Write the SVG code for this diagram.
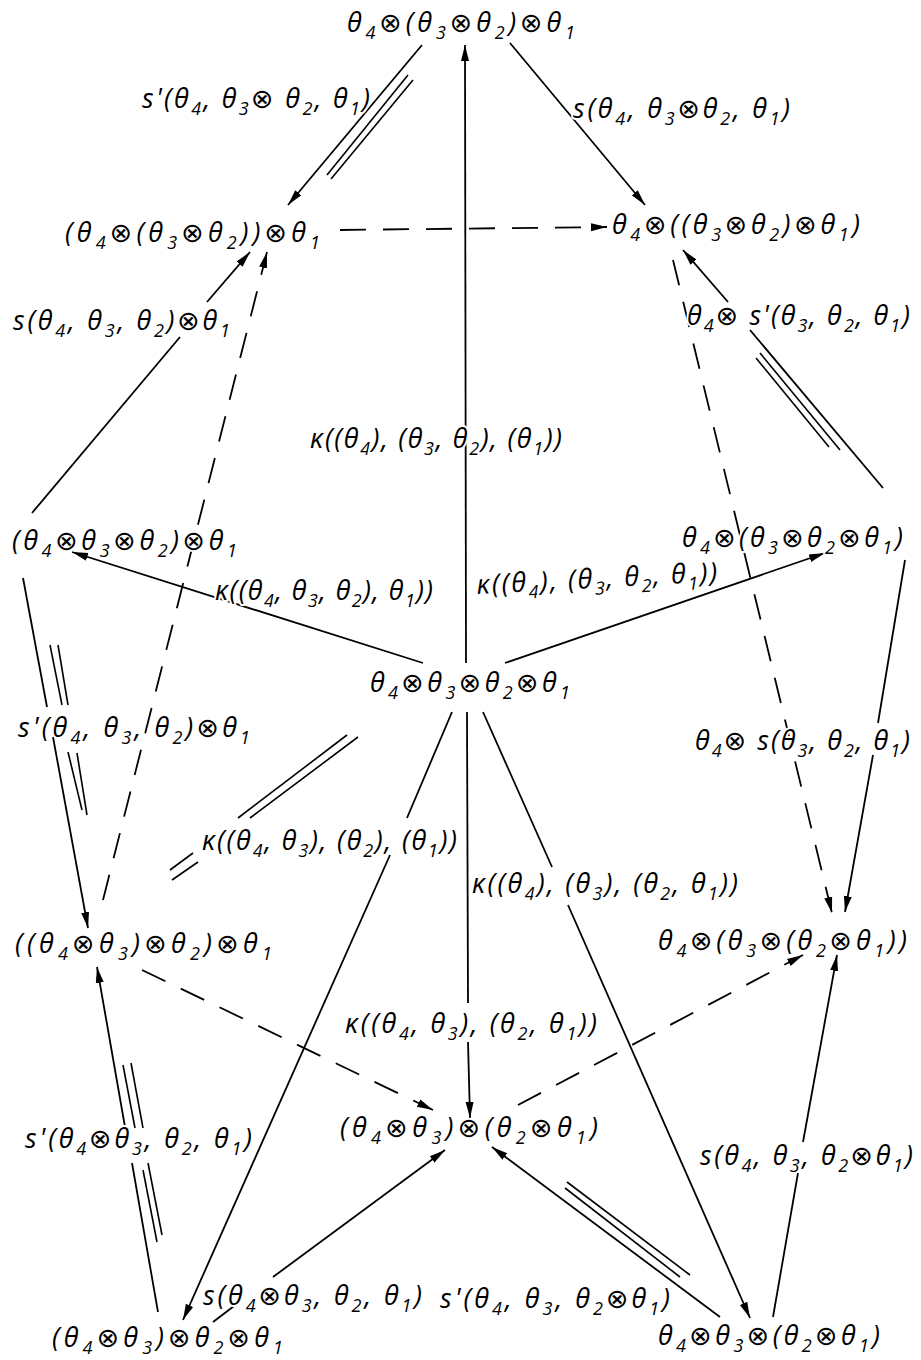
<svg xmlns="http://www.w3.org/2000/svg" width="921" height="1360" viewBox="0 0 921 1360">
<style>
text{font-family:"Open Sans","DejaVu Sans",sans-serif;font-style:italic;font-size:27px;fill:#000;stroke:#fff;stroke-width:4;stroke-linejoin:round;paint-order:stroke}
.s{font-size:18px}
.a{stroke:#000;stroke-width:1.8;fill:none}
.d{stroke:#000;stroke-width:1.8;fill:none;stroke-dasharray:26 17}
.m{stroke:#000;stroke-width:1.6;fill:none}
</style>
<defs>
<marker id="ah" viewBox="0 0 16 10" refX="16" refY="5" markerWidth="16" markerHeight="10" markerUnits="userSpaceOnUse" orient="auto">
<path d="M0,1 L16,5 L0,9 Z" fill="#000"/>
</marker>
</defs>
<rect width="921" height="1360" fill="#fff"/>
<g id="connectors">
<line class="a" x1="422" y1="45" x2="288" y2="205" marker-end="url(#ah)"/>
<line class="m" x1="408" y1="75" x2="327" y2="175"/>
<line class="m" x1="413" y1="80" x2="331" y2="179"/>
<line class="a" x1="510" y1="43" x2="645" y2="205" marker-end="url(#ah)"/>
<line class="a" x1="466" y1="663" x2="465" y2="45" marker-end="url(#ah)"/>
<line class="d" x1="340" y1="230" x2="607" y2="227" marker-end="url(#ah)"/>
<line class="a" x1="32" y1="513" x2="180" y2="337"/>
<line class="a" x1="207" y1="302" x2="250" y2="252" marker-end="url(#ah)"/>
<line class="d" x1="103" y1="900" x2="267" y2="252" marker-end="url(#ah)"/>
<line class="a" x1="883" y1="488" x2="750" y2="330"/>
<line class="a" x1="728" y1="302" x2="683" y2="250" marker-end="url(#ah)"/>
<line class="m" x1="760" y1="353" x2="840" y2="450"/>
<line class="m" x1="756" y1="358" x2="829" y2="447"/>
<line class="d" x1="673" y1="260" x2="832" y2="913" marker-end="url(#ah)"/>
<line class="a" x1="423" y1="663" x2="72" y2="552" marker-end="url(#ah)"/>
<line class="a" x1="505" y1="663" x2="825" y2="553" marker-end="url(#ah)"/>
<line class="a" x1="23" y1="578" x2="47" y2="707"/>
<line class="a" x1="53" y1="737" x2="88" y2="928" marker-end="url(#ah)"/>
<line class="m" x1="50" y1="645" x2="62" y2="705"/>
<line class="m" x1="58" y1="645" x2="68" y2="705"/>
<line class="m" x1="68" y1="752" x2="82" y2="810"/>
<line class="m" x1="77" y1="753" x2="87" y2="815"/>
<line class="a" x1="452" y1="712" x2="407" y2="818"/>
<line class="a" x1="390" y1="855" x2="183" y2="1320" marker-end="url(#ah)"/>
<line class="m" x1="347" y1="735" x2="238" y2="818"/>
<line class="m" x1="358" y1="737" x2="250" y2="818"/>
<line class="m" x1="193" y1="853" x2="170" y2="870"/>
<line class="m" x1="198" y1="862" x2="172" y2="880"/>
<line class="a" x1="467" y1="712" x2="468" y2="1003"/>
<line class="a" x1="468" y1="1042" x2="470" y2="1118" marker-end="url(#ah)"/>
<line class="a" x1="483" y1="712" x2="552" y2="867"/>
<line class="a" x1="568" y1="905" x2="750" y2="1318" marker-end="url(#ah)"/>
<line class="a" x1="905" y1="560" x2="878" y2="723"/>
<line class="a" x1="873" y1="755" x2="845" y2="912" marker-end="url(#ah)"/>
<line class="d" x1="142" y1="970" x2="433" y2="1110" marker-end="url(#ah)"/>
<line class="d" x1="518" y1="1105" x2="803" y2="955" marker-end="url(#ah)"/>
<line class="a" x1="158" y1="1312" x2="132" y2="1163"/>
<line class="a" x1="125" y1="1127" x2="97" y2="967" marker-end="url(#ah)"/>
<line class="m" x1="123" y1="1065" x2="135" y2="1128"/>
<line class="m" x1="131" y1="1063" x2="143" y2="1128"/>
<line class="m" x1="143" y1="1170" x2="157" y2="1242"/>
<line class="m" x1="148" y1="1163" x2="162" y2="1235"/>
<line class="a" x1="213" y1="1322" x2="238" y2="1303"/>
<line class="a" x1="273" y1="1277" x2="445" y2="1150" marker-end="url(#ah)"/>
<line class="a" x1="720" y1="1317" x2="492" y2="1147" marker-end="url(#ah)"/>
<line class="m" x1="567" y1="1182" x2="690" y2="1275"/>
<line class="m" x1="565" y1="1188" x2="680" y2="1277"/>
<line class="a" x1="773" y1="1317" x2="798" y2="1173"/>
<line class="a" x1="803" y1="1142" x2="837" y2="955" marker-end="url(#ah)"/>
</g>
<g id="labels">
<text x="142" y="108" textLength="228" lengthAdjust="spacing">s'(θ<tspan class="s" dy="7">4</tspan><tspan dy="-7">, θ</tspan><tspan class="s" dy="7">3</tspan><tspan dy="-7">⊗ θ</tspan><tspan class="s" dy="7">2</tspan><tspan dy="-7">, θ</tspan><tspan class="s" dy="7">1</tspan><tspan dy="-7">)</tspan></text>
<text x="573" y="118" textLength="217" lengthAdjust="spacing">s(θ<tspan class="s" dy="7">4</tspan><tspan dy="-7">, θ</tspan><tspan class="s" dy="7">3</tspan><tspan dy="-7">⊗θ</tspan><tspan class="s" dy="7">2</tspan><tspan dy="-7">, θ</tspan><tspan class="s" dy="7">1</tspan><tspan dy="-7">)</tspan></text>
<text x="13" y="330" textLength="217" lengthAdjust="spacing">s(θ<tspan class="s" dy="7">4</tspan><tspan dy="-7">, θ</tspan><tspan class="s" dy="7">3</tspan><tspan dy="-7">, θ</tspan><tspan class="s" dy="7">2</tspan><tspan dy="-7">)⊗θ</tspan><tspan class="s" dy="7">1</tspan></text>
<text x="687" y="325" textLength="223" lengthAdjust="spacing">θ<tspan class="s" dy="7">4</tspan><tspan dy="-7">⊗ s'(θ</tspan><tspan class="s" dy="7">3</tspan><tspan dy="-7">, θ</tspan><tspan class="s" dy="7">2</tspan><tspan dy="-7">, θ</tspan><tspan class="s" dy="7">1</tspan><tspan dy="-7">)</tspan></text>
<text x="310" y="448" textLength="252" lengthAdjust="spacing">κ((θ<tspan class="s" dy="7">4</tspan><tspan dy="-7">), (θ</tspan><tspan class="s" dy="7">3</tspan><tspan dy="-7">, θ</tspan><tspan class="s" dy="7">2</tspan><tspan dy="-7">), (θ</tspan><tspan class="s" dy="7">1</tspan><tspan dy="-7">))</tspan></text>
<text x="215" y="600" textLength="218" lengthAdjust="spacing">κ((θ<tspan class="s" dy="7">4</tspan><tspan dy="-7">, θ</tspan><tspan class="s" dy="7">3</tspan><tspan dy="-7">, θ</tspan><tspan class="s" dy="7">2</tspan><tspan dy="-7">), θ</tspan><tspan class="s" dy="7">1</tspan><tspan dy="-7">))</tspan></text>
<text x="477" y="594" textLength="241" lengthAdjust="spacing" transform="rotate(-3 477 594)">κ((θ<tspan class="s" dy="7">4</tspan><tspan dy="-7">), (θ</tspan><tspan class="s" dy="7">3</tspan><tspan dy="-7">, θ</tspan><tspan class="s" dy="7">2</tspan><tspan dy="-7">, θ</tspan><tspan class="s" dy="7">1</tspan><tspan dy="-7">))</tspan></text>
<text x="18" y="737" textLength="232" lengthAdjust="spacing">s'(θ<tspan class="s" dy="7">4</tspan><tspan dy="-7">, θ</tspan><tspan class="s" dy="7">3</tspan><tspan dy="-7">, θ</tspan><tspan class="s" dy="7">2</tspan><tspan dy="-7">)⊗θ</tspan><tspan class="s" dy="7">1</tspan></text>
<text x="202" y="850" textLength="255" lengthAdjust="spacing">κ((θ<tspan class="s" dy="7">4</tspan><tspan dy="-7">, θ</tspan><tspan class="s" dy="7">3</tspan><tspan dy="-7">), (θ</tspan><tspan class="s" dy="7">2</tspan><tspan dy="-7">), (θ</tspan><tspan class="s" dy="7">1</tspan><tspan dy="-7">))</tspan></text>
<text x="695" y="750" textLength="215" lengthAdjust="spacing">θ<tspan class="s" dy="7">4</tspan><tspan dy="-7">⊗ s(θ</tspan><tspan class="s" dy="7">3</tspan><tspan dy="-7">, θ</tspan><tspan class="s" dy="7">2</tspan><tspan dy="-7">, θ</tspan><tspan class="s" dy="7">1</tspan><tspan dy="-7">)</tspan></text>
<text x="472" y="893" textLength="266" lengthAdjust="spacing">κ((θ<tspan class="s" dy="7">4</tspan><tspan dy="-7">), (θ</tspan><tspan class="s" dy="7">3</tspan><tspan dy="-7">), (θ</tspan><tspan class="s" dy="7">2</tspan><tspan dy="-7">, θ</tspan><tspan class="s" dy="7">1</tspan><tspan dy="-7">))</tspan></text>
<text x="345" y="1033" textLength="252" lengthAdjust="spacing">κ((θ<tspan class="s" dy="7">4</tspan><tspan dy="-7">, θ</tspan><tspan class="s" dy="7">3</tspan><tspan dy="-7">), (θ</tspan><tspan class="s" dy="7">2</tspan><tspan dy="-7">, θ</tspan><tspan class="s" dy="7">1</tspan><tspan dy="-7">))</tspan></text>
<text x="25" y="1148" textLength="227" lengthAdjust="spacing">s'(θ<tspan class="s" dy="7">4</tspan><tspan dy="-7">⊗θ</tspan><tspan class="s" dy="7">3</tspan><tspan dy="-7">, θ</tspan><tspan class="s" dy="7">2</tspan><tspan dy="-7">, θ</tspan><tspan class="s" dy="7">1</tspan><tspan dy="-7">)</tspan></text>
<text x="700" y="1165" textLength="213" lengthAdjust="spacing">s(θ<tspan class="s" dy="7">4</tspan><tspan dy="-7">, θ</tspan><tspan class="s" dy="7">3</tspan><tspan dy="-7">, θ</tspan><tspan class="s" dy="7">2</tspan><tspan dy="-7">⊗θ</tspan><tspan class="s" dy="7">1</tspan><tspan dy="-7">)</tspan></text>
<text x="203" y="1305" textLength="219" lengthAdjust="spacing">s(θ<tspan class="s" dy="7">4</tspan><tspan dy="-7">⊗θ</tspan><tspan class="s" dy="7">3</tspan><tspan dy="-7">, θ</tspan><tspan class="s" dy="7">2</tspan><tspan dy="-7">, θ</tspan><tspan class="s" dy="7">1</tspan><tspan dy="-7">)</tspan></text>
<text x="440" y="1308" textLength="230" lengthAdjust="spacing">s'(θ<tspan class="s" dy="7">4</tspan><tspan dy="-7">, θ</tspan><tspan class="s" dy="7">3</tspan><tspan dy="-7">, θ</tspan><tspan class="s" dy="7">2</tspan><tspan dy="-7">⊗θ</tspan><tspan class="s" dy="7">1</tspan><tspan dy="-7">)</tspan></text>
</g>
<g id="n1"><text x="347" y="32" textLength="228" lengthAdjust="spacing">θ<tspan class="s" dy="7">4</tspan><tspan dy="-7">⊗(θ</tspan><tspan class="s" dy="7">3</tspan><tspan dy="-7">⊗θ</tspan><tspan class="s" dy="7">2</tspan><tspan dy="-7">)⊗θ</tspan><tspan class="s" dy="7">1</tspan></text></g>
<g id="n2"><text x="65" y="242" textLength="255" lengthAdjust="spacing">(θ<tspan class="s" dy="7">4</tspan><tspan dy="-7">⊗(θ</tspan><tspan class="s" dy="7">3</tspan><tspan dy="-7">⊗θ</tspan><tspan class="s" dy="7">2</tspan><tspan dy="-7">))⊗θ</tspan><tspan class="s" dy="7">1</tspan></text></g>
<g id="n3"><text x="612" y="234" textLength="248" lengthAdjust="spacing">θ<tspan class="s" dy="7">4</tspan><tspan dy="-7">⊗((θ</tspan><tspan class="s" dy="7">3</tspan><tspan dy="-7">⊗θ</tspan><tspan class="s" dy="7">2</tspan><tspan dy="-7">)⊗θ</tspan><tspan class="s" dy="7">1</tspan><tspan dy="-7">)</tspan></text></g>
<g id="n4"><text x="12" y="550" textLength="225" lengthAdjust="spacing">(θ<tspan class="s" dy="7">4</tspan><tspan dy="-7">⊗θ</tspan><tspan class="s" dy="7">3</tspan><tspan dy="-7">⊗θ</tspan><tspan class="s" dy="7">2</tspan><tspan dy="-7">)⊗θ</tspan><tspan class="s" dy="7">1</tspan></text></g>
<g id="n5"><text x="682" y="547" textLength="221" lengthAdjust="spacing">θ<tspan class="s" dy="7">4</tspan><tspan dy="-7">⊗(θ</tspan><tspan class="s" dy="7">3</tspan><tspan dy="-7">⊗θ</tspan><tspan class="s" dy="7">2</tspan><tspan dy="-7">⊗θ</tspan><tspan class="s" dy="7">1</tspan><tspan dy="-7">)</tspan></text></g>
<g id="n6"><text x="370" y="692" textLength="200" lengthAdjust="spacing">θ<tspan class="s" dy="7">4</tspan><tspan dy="-7">⊗θ</tspan><tspan class="s" dy="7">3</tspan><tspan dy="-7">⊗θ</tspan><tspan class="s" dy="7">2</tspan><tspan dy="-7">⊗θ</tspan><tspan class="s" dy="7">1</tspan></text></g>
<g id="n7"><text x="15" y="953" textLength="257" lengthAdjust="spacing">((θ<tspan class="s" dy="7">4</tspan><tspan dy="-7">⊗θ</tspan><tspan class="s" dy="7">3</tspan><tspan dy="-7">)⊗θ</tspan><tspan class="s" dy="7">2</tspan><tspan dy="-7">)⊗θ</tspan><tspan class="s" dy="7">1</tspan></text></g>
<g id="n8"><text x="658" y="950" textLength="249" lengthAdjust="spacing">θ<tspan class="s" dy="7">4</tspan><tspan dy="-7">⊗(θ</tspan><tspan class="s" dy="7">3</tspan><tspan dy="-7">⊗(θ</tspan><tspan class="s" dy="7">2</tspan><tspan dy="-7">⊗θ</tspan><tspan class="s" dy="7">1</tspan><tspan dy="-7">))</tspan></text></g>
<g id="n9"><text x="340" y="1137" textLength="258" lengthAdjust="spacing">(θ<tspan class="s" dy="7">4</tspan><tspan dy="-7">⊗θ</tspan><tspan class="s" dy="7">3</tspan><tspan dy="-7">)⊗(θ</tspan><tspan class="s" dy="7">2</tspan><tspan dy="-7">⊗θ</tspan><tspan class="s" dy="7">1</tspan><tspan dy="-7">)</tspan></text></g>
<g id="n10"><text x="52" y="1347" textLength="231" lengthAdjust="spacing">(θ<tspan class="s" dy="7">4</tspan><tspan dy="-7">⊗θ</tspan><tspan class="s" dy="7">3</tspan><tspan dy="-7">)⊗θ</tspan><tspan class="s" dy="7">2</tspan><tspan dy="-7">⊗θ</tspan><tspan class="s" dy="7">1</tspan></text></g>
<g id="n11"><text x="658" y="1345" textLength="222" lengthAdjust="spacing">θ<tspan class="s" dy="7">4</tspan><tspan dy="-7">⊗θ</tspan><tspan class="s" dy="7">3</tspan><tspan dy="-7">⊗(θ</tspan><tspan class="s" dy="7">2</tspan><tspan dy="-7">⊗θ</tspan><tspan class="s" dy="7">1</tspan><tspan dy="-7">)</tspan></text></g>
</svg>
